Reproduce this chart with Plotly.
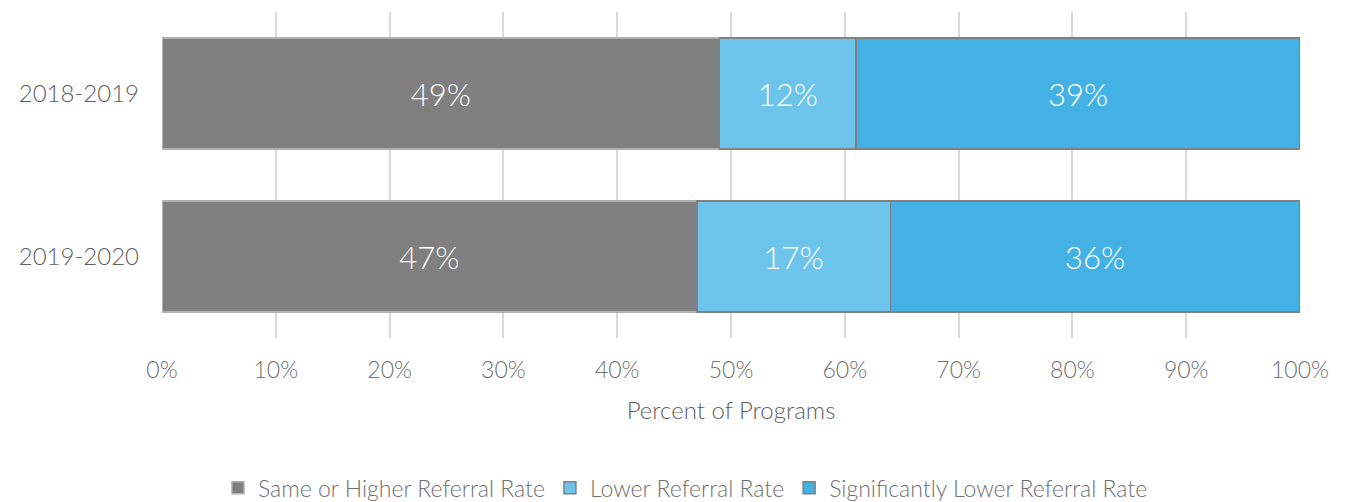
import plotly.graph_objects as go

years = ["2018-2019", "2019-2020"]
series_names = ["Same or Higher Referral Rate", "Lower Referral Rate", "Significantly Lower Referral Rate"]
same_higher = [49, 47]
lower = [12, 17]
sig_lower = [39, 36]
x_ticks = [0, 10, 20, 30, 40, 50, 60, 70, 80, 90, 100]
x_tick_labels = [f"{v}%" for v in x_ticks]

colors = ["#7f7f7f", "#6cc4ea", "#43b1e3"]
borders = ["#b0b0b0", "#808080", "#808080"]

FONT = "Lato"
W = 300
fig = go.Figure()
for name, vals, c, b in zip(series_names, [same_higher, lower, sig_lower], colors, borders):
    fig.add_trace(go.Bar(
        y=years, x=vals, name=name, orientation="h",
        marker=dict(color=c, line=dict(color=b, width=1.5)),
        text=[f"{v}%" for v in vals], textposition="inside",
        insidetextanchor="middle",
        textfont=dict(color="white", size=31, family=FONT, weight=W),
    ))

fig.update_layout(
    barmode="stack", bargap=0.32,
    width=1347, height=502,
    margin=dict(l=154, r=55, t=4, b=172, autoexpand=False),
    plot_bgcolor="white", paper_bgcolor="white",
    font=dict(family=FONT, color="#707070", weight=W),
    xaxis=dict(range=[0, 100], tickvals=x_ticks, ticktext=x_tick_labels,
               showgrid=True, gridcolor="#d9d9d9", gridwidth=1.5, zeroline=False,
               tickfont=dict(size=23, color="#707070", weight=W), automargin=False,
               title=dict(text="Percent of Programs", font=dict(size=24, color="#606060", weight=W), standoff=20),
               ticks="", ticklabelstandoff=16),
    yaxis=dict(autorange="reversed", tickfont=dict(size=24, color="#606060", weight=W),
               ticks="", ticklabelstandoff=22, automargin=False),
    legend=dict(orientation="h", x=0.46, xanchor="center", yref="container", y=0.044, yanchor="middle",
                font=dict(size=23, color="#707070", weight=W), itemwidth=30, traceorder="normal"),
)
fig.update_layout(uniformtext=dict(minsize=10, mode="show"))
fig.write_html("out.html")
